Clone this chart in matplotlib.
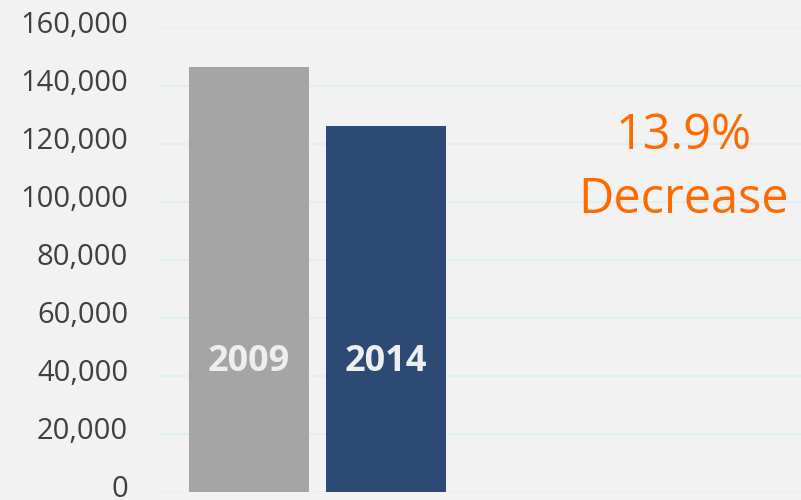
import numpy as np
import matplotlib.pyplot as plt
import matplotlib.transforms as mtransforms
from matplotlib.ticker import FuncFormatter

# data
years = ['2009', '2014']
values = [146500, 126200]
bar_colors = ['#a5a5a5', '#2c4a74']
note_lines = ['13.9%', 'Decrease']

plt.rcParams['font.family'] = ['Open Sans', 'DejaVu Sans']

fig = plt.figure(figsize=(8.01, 5.0), dpi=100)
fig.patch.set_facecolor('#f2f2f2')
ax = fig.add_axes([160 / 801, 8 / 500, 641 / 801, 464 / 500])
ax.set_facecolor('#f2f2f2')

x = np.arange(len(years))
ax.bar(x, values, width=0.876, color=bar_colors, zorder=2)

# year labels inside the bars
for xi, yr in zip(x, years):
    ax.text(xi, 44800, yr, ha='center', va='center', fontsize=26,
            fontweight='bold', color='#eeeeee', zorder=3)

ax.set_xlim(-0.65, 4.03)
ax.set_ylim(0, 160000)
ax.set_yticks(np.arange(0, 160001, 20000))
ax.yaxis.set_major_formatter(FuncFormatter(lambda v, p: f'{int(v):,}'))
ax.tick_params(axis='y', length=0, pad=23, labelsize=21, labelcolor='#404040')
ax.set_xticks([])
ax.grid(axis='y', color='#dcf0f6', linewidth=1.2, zorder=0)
for s in ax.spines.values():
    s.set_visible(False)

# tick labels sit a little above their gridlines
shift = mtransforms.ScaledTranslation(0, 4 / 72, fig.dpi_scale_trans)
for lab in ax.get_yticklabels():
    lab.set_transform(lab.get_transform() + shift)

# annotation on the right
ax.text(3.17, 122800, note_lines[0], ha='center', va='center', fontsize=35,
        color='#ff6a00')
ax.text(3.17, 100700, note_lines[1], ha='center', va='center', fontsize=35,
        color='#ff6a00')

fig.savefig('out.png', dpi=100, facecolor=fig.get_facecolor())
